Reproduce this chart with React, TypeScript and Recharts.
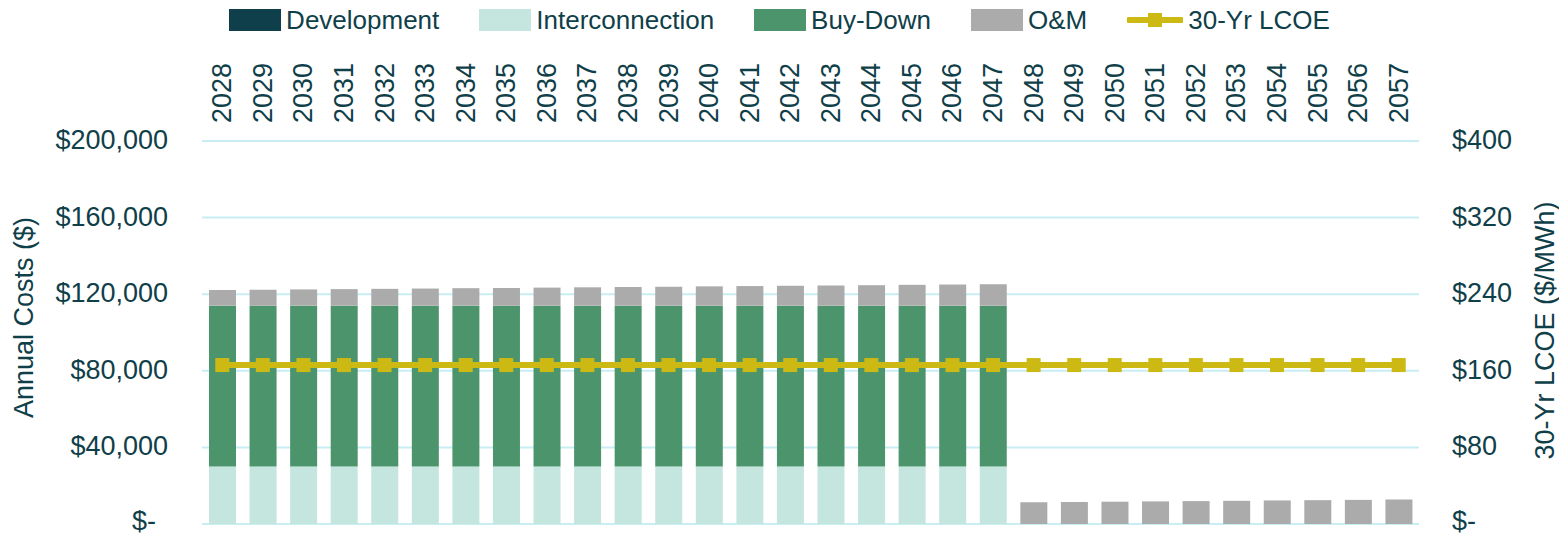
import { ComposedChart, Bar, Line, XAxis, YAxis, CartesianGrid, Legend } from 'recharts';

const years = [
  '2028', '2029', '2030', '2031', '2032', '2033', '2034', '2035', '2036', '2037',
  '2038', '2039', '2040', '2041', '2042', '2043', '2044', '2045', '2046', '2047',
  '2048', '2049', '2050', '2051', '2052', '2053', '2054', '2055', '2056', '2057',
];
const development = [
  0, 0, 0, 0, 0, 0, 0, 0, 0, 0, 0, 0, 0, 0, 0, 0, 0, 0, 0, 0,
  0, 0, 0, 0, 0, 0, 0, 0, 0, 0,
];
const interconnection = [
  30000, 30000, 30000, 30000, 30000, 30000, 30000, 30000, 30000, 30000,
  30000, 30000, 30000, 30000, 30000, 30000, 30000, 30000, 30000, 30000,
  0, 0, 0, 0, 0, 0, 0, 0, 0, 0,
];
const buyDown = [
  84000, 84000, 84000, 84000, 84000, 84000, 84000, 84000, 84000, 84000,
  84000, 84000, 84000, 84000, 84000, 84000, 84000, 84000, 84000, 84000,
  0, 0, 0, 0, 0, 0, 0, 0, 0, 0,
];
const om = [
  8200, 8350, 8500, 8650, 8800, 8950, 9150, 9300, 9450, 9600,
  9750, 9900, 10100, 10250, 10400, 10550, 10700, 10900, 11050, 11200,
  11350, 11500, 11650, 11800, 11950, 12100, 12300, 12450, 12600, 12800,
];
const lcoe = [
  166, 166, 166, 166, 166, 166, 166, 166, 166, 166,
  166, 166, 166, 166, 166, 166, 166, 166, 166, 166,
  166, 166, 166, 166, 166, 166, 166, 166, 166, 166,
];
const leftTicks = [0, 40000, 80000, 120000, 160000, 200000];
const rightTicks = [0, 80, 160, 240, 320, 400];

const data = years.map((year, i) => ({
  year,
  development: development[i],
  interconnection: interconnection[i],
  buyDown: buyDown[i],
  om: om[i],
  lcoe: lcoe[i],
}));

const TEXT = '#0F4049';
const FONT = '"Liberation Sans", Arial, sans-serif';
const LCOE_COLOR = '#CDB914';

const legendItems = [
  { name: 'Development', color: '#0E3F4A', type: 'rect' },
  { name: 'Interconnection', color: '#C5E5DF', type: 'rect' },
  { name: 'Buy-Down', color: '#4C956C', type: 'rect' },
  { name: 'O&M', color: '#ABABAB', type: 'rect' },
  { name: '30-Yr LCOE', color: LCOE_COLOR, type: 'line' },
];

const renderLegend = () => (
  <div style={{ display: 'flex', justifyContent: 'center', alignItems: 'center', gap: 40, fontFamily: FONT, fontSize: 26, color: TEXT, height: 36 }}>
    {legendItems.map((item) => (
      <div key={item.name} style={{ display: 'flex', alignItems: 'center' }}>
        {item.type === 'rect' ? (
          <div style={{ width: 52, height: 22, background: item.color, marginRight: 5 }} />
        ) : (
          <svg width={56} height={22} style={{ marginRight: 5 }}>
            <line x1={2} y1={11} x2={54} y2={11} stroke={item.color} strokeWidth={6} strokeLinecap="round" />
            <rect x={21} y={4} width={14} height={14} fill={item.color} />
          </svg>
        )}
        <span>{item.name}</span>
      </div>
    ))}
  </div>
);

const YearTick = ({ x, y, payload }: any) => (
  <text x={x} y={y} transform={`rotate(-90, ${x}, ${y})`} textAnchor="start" dominantBaseline="central" fill={TEXT} fontSize={27} fontFamily={FONT}>
    {payload.value}
  </text>
);

const LeftTick = ({ x, y, payload }: any) => (
  <text x={payload.value === 0 ? x - 12 : x} y={payload.value === 0 ? y - 3 : y - 1} textAnchor="end" dominantBaseline="central" fill={TEXT} fontSize={27} fontFamily={FONT}>
    {payload.value === 0 ? '$-' : `$${payload.value.toLocaleString('en-US')}`}
  </text>
);

const RightTick = ({ x, y, payload }: any) => (
  <text x={x} y={payload.value === 0 ? y - 3 : y - 1} textAnchor="start" dominantBaseline="central" fill={TEXT} fontSize={27} fontFamily={FONT}>
    {payload.value === 0 ? '$-' : `$${payload.value}`}
  </text>
);

const AxisTitle = ({ viewBox, value, dx, dy }: any) => {
  const x = viewBox.x + dx;
  const y = viewBox.y + viewBox.height / 2 + dy;
  return (
    <text x={x} y={y} transform={`rotate(-90, ${x}, ${y})`} textAnchor="middle" dominantBaseline="central" fill={TEXT} fontSize={27} fontFamily={FONT}>
      {value}
    </text>
  );
};

const SquareDot = ({ cx, cy }: any) => (
  <rect x={cx - 7} y={cy - 7} width={14} height={14} fill={LCOE_COLOR} />
);

const App = () => {
  return (
    <div style={{ position: 'absolute', left: 0, top: 0 }}>
      <ComposedChart width={1559} height={535} data={data} margin={{ top: 2, right: 0, bottom: 11, left: 0 }} barSize={27}>
        <Legend verticalAlign="top" align="center" content={renderLegend} wrapperStyle={{ top: 2, height: 36 }} />
        <CartesianGrid yAxisId="left" vertical={false} stroke="#C8EEF3" strokeWidth={2} />
        <XAxis
          dataKey="year"
          orientation="top"
          height={103}
          axisLine={false}
          tickLine={false}
          tickSize={0}
          tickMargin={18}
          interval={0}
          tick={<YearTick />}
        />
        <YAxis
          yAxisId="left"
          domain={[0, 200000]}
          ticks={leftTicks}
          width={202}
          axisLine={false}
          tickLine={false}
          tickSize={0}
          tickMargin={34}
          tick={<LeftTick />}
          label={<AxisTitle value="Annual Costs ($)" dx={24} dy={-15} />}
        />
        <YAxis
          yAxisId="right"
          orientation="right"
          domain={[0, 400]}
          ticks={rightTicks}
          width={140}
          axisLine={false}
          tickLine={false}
          tickSize={0}
          tickMargin={33}
          tick={<RightTick />}
          label={<AxisTitle value="30-Yr LCOE ($/MWh)" dx={126} dy={-2} />}
        />
        <Bar yAxisId="left" dataKey="development" name="Development" stackId="a" fill="#0E3F4A" isAnimationActive={false} />
        <Bar yAxisId="left" dataKey="interconnection" name="Interconnection" stackId="a" fill="#C5E5DF" isAnimationActive={false} />
        <Bar yAxisId="left" dataKey="buyDown" name="Buy-Down" stackId="a" fill="#4C956C" isAnimationActive={false} />
        <Bar yAxisId="left" dataKey="om" name="O&M" stackId="a" fill="#ABABAB" isAnimationActive={false} />
        <Line
          yAxisId="right"
          dataKey="lcoe"
          name="30-Yr LCOE"
          stroke={LCOE_COLOR}
          strokeWidth={6}
          dot={<SquareDot />}
          activeDot={false}
          isAnimationActive={false}
        />
      </ComposedChart>
    </div>
  );
};

export default App;
